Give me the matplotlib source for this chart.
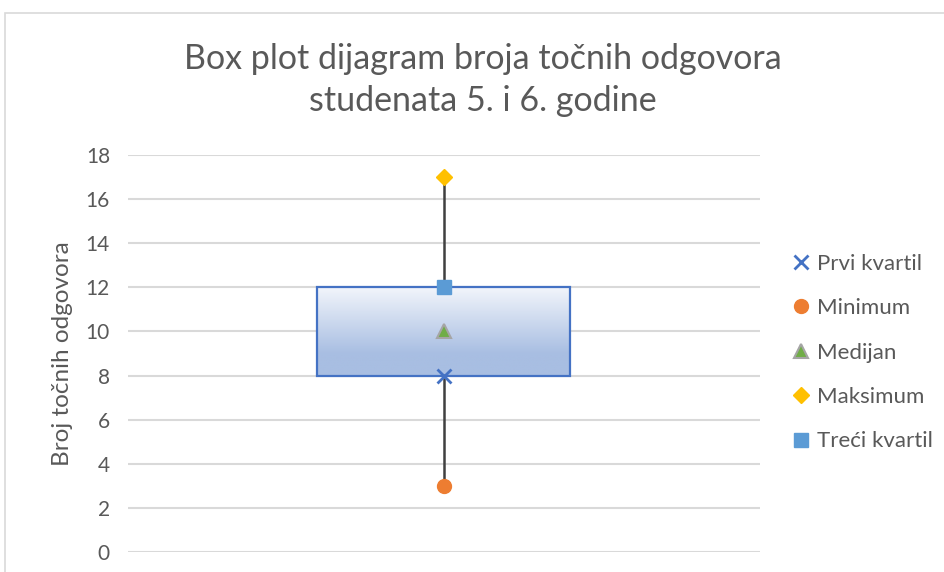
import numpy as np
import matplotlib.pyplot as plt
from matplotlib.patches import Rectangle

plt.rcParams['font.family'] = ['Lato', 'DejaVu Sans']

# five-number summary
labels = ['Prvi kvartil', 'Minimum', 'Medijan', 'Maksimum', 'Treći kvartil']
values = [8, 3, 10, 17, 12]
q1, vmin, med, vmax, q3 = values

yticks = [0, 2, 4, 6, 8, 10, 12, 14, 16, 18]
title = 'Box plot dijagram broja točnih odgovora\nstudenata 5. i 6. godine'
ylabel = 'Broj točnih odgovora'

txt = '#595959'
fig = plt.figure(figsize=(9.44, 5.72), dpi=100)
ax = fig.add_axes([0.1356, 0.035, 0.669, 0.694])

# chart frame (cut off at right and bottom as in screenshot)
fig.patches.append(Rectangle((5/944, -0.1), 1.2, 1 - 13/572 + 0.1,
                             transform=fig.transFigure, fill=False,
                             edgecolor='#d9d9d9', lw=1.2))

x0 = 0
w = 0.4
ax.set_xlim(-0.5, 0.5)
ax.set_ylim(0, 18)

# whisker line
ax.plot([x0, x0], [vmin, vmax], color='#404040', lw=1.8, zorder=2)

# box with vertical gradient
grad = np.linspace(0, 1, 256).reshape(-1, 1)
top_c = np.array([0xf2, 0xf5, 0xfb]) / 255
bot_c = np.array([0xa8, 0xbe, 0xe2]) / 255
t = np.clip(grad / 0.75, 0, 1)
img = top_c + (bot_c - top_c) * t
img = img.reshape(256, 1, 3)
im = ax.imshow(img, extent=[x0 - w/2, x0 + w/2, q1, q3], origin='upper',
               aspect='auto', zorder=3)
box = Rectangle((x0 - w/2, q1), w, q3 - q1, fill=False, edgecolor='#4472c4',
                lw=1.6, zorder=4)
ax.add_patch(box)
im.set_clip_path(box)

# markers
ax.plot(x0, q1, 'x', color='#4472c4', ms=10, mew=2, zorder=5, label=labels[0])
ax.plot(x0, vmin, 'o', color='#ed7d31', ms=10, zorder=5, label=labels[1])
ax.plot(x0, med, '^', color='#70ad47', mec='#a5a5a5', mew=1.5, ms=10,
        zorder=5, label=labels[2])
ax.plot(x0, vmax, 'D', color='#ffc000', ms=8, zorder=5, label=labels[3])
ax.plot(x0, q3, 's', color='#5b9bd5', ms=10, zorder=5, label=labels[4])

ax.set_yticks(yticks)
ax.set_xticks([])
ax.yaxis.grid(True, color='#d9d9d9', lw=1.5)
ax.set_axisbelow(True)
for s in ax.spines.values():
    s.set_visible(False)
ax.tick_params(axis='y', length=0, labelsize=15, colors=txt, pad=13)
ax.set_ylabel(ylabel, fontsize=17.5, color=txt, labelpad=9)

fig.text(0.511, 0.86, title, ha='center', va='center', fontsize=24.5,
         color=txt, linespacing=1.38)

fig.legend(loc='upper left', bbox_to_anchor=(0.828, 0.572), frameon=False,
           fontsize=16, labelcolor=txt, labelspacing=1.1, handlelength=0.9,
           handletextpad=0.3, borderaxespad=0)

fig.savefig('out.png', dpi=100)
